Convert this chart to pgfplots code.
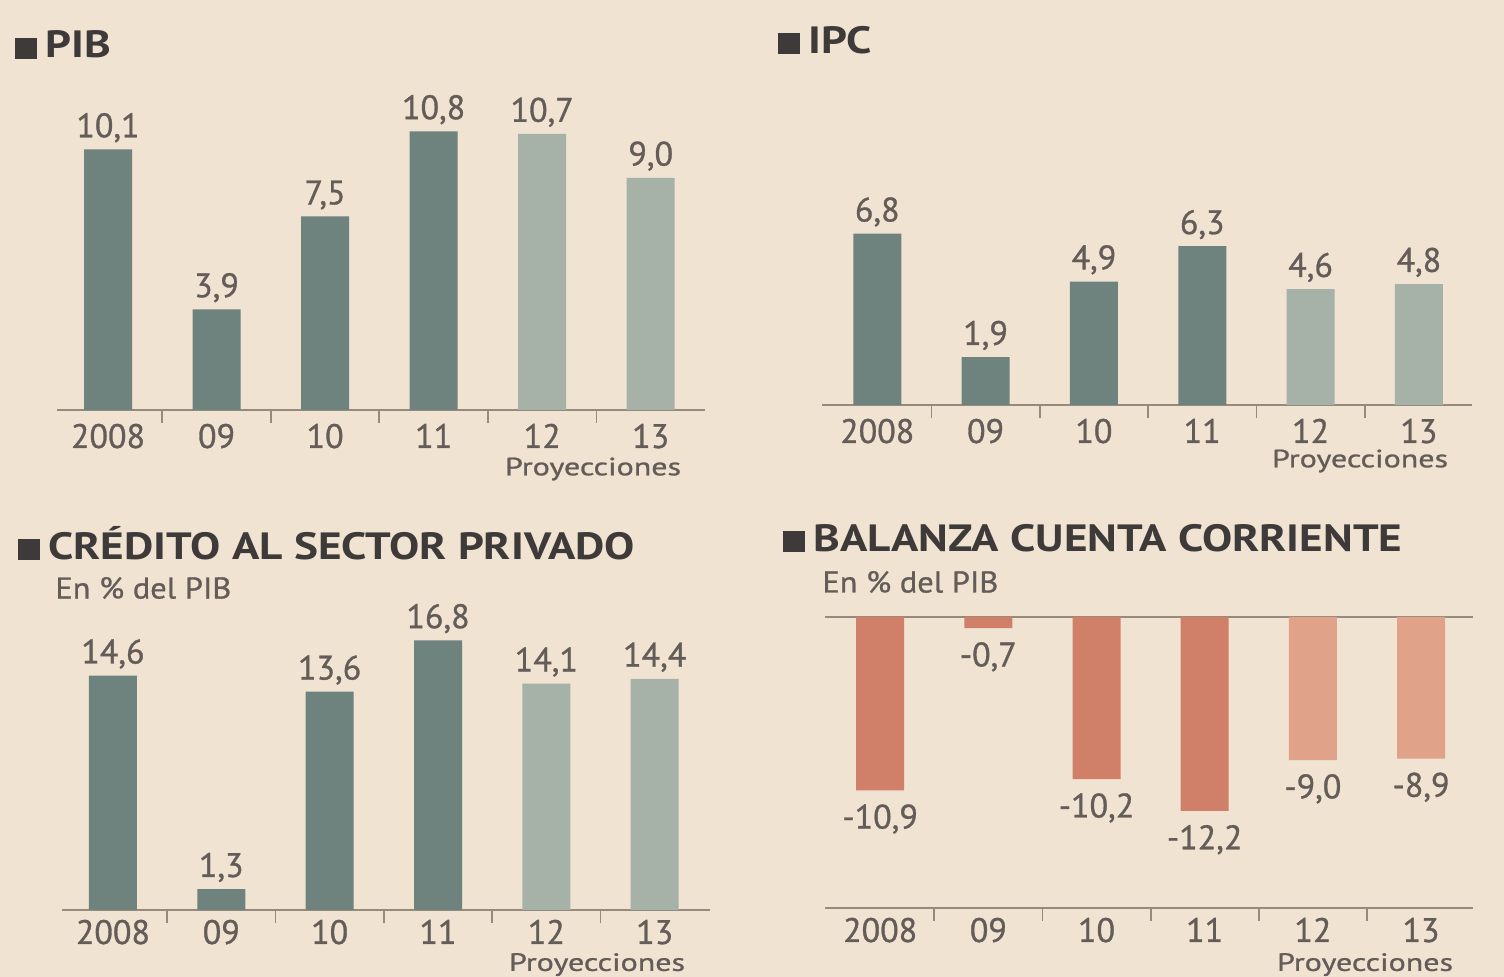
\documentclass[border=0pt]{standalone}
\usepackage{pgfplots}
\pgfplotsset{compat=1.18}
\usepackage{fontspec}
\setmainfont{PT Sans}
\newfontfamily\medfont[FakeBold=0.9]{PT Sans}
\definecolor{bg}{RGB}{240,227,209}
\definecolor{dk}{RGB}{110,131,125}
\definecolor{lt}{RGB}{166,178,168}
\definecolor{rdk}{RGB}{208,128,104}
\definecolor{rlt}{RGB}{224,162,136}
\definecolor{axc}{RGB}{150,138,125}
\definecolor{txt}{RGB}{100,92,88}
\definecolor{ttl}{RGB}{62,58,58}
\newcommand{\ttlbox}[1]{\rule[-0.5pt]{11pt}{10.5pt}\hspace{4pt}\scalebox{1.19}[1]{#1}}
\tikzset{proy/.style={inner sep=0, text=txt, font=\medfont\fontsize{12.5}{12.5}\selectfont}}
\newcommand{\proyt}{\scalebox{1.28}[1]{Proyecciones}}
\pgfplotsset{
  panel/.style={
    scale only axis, anchor=south west,
    width=324pt,
    axis x line=bottom, axis y line=none,
    axis line style={-, draw=axc, line width=1.3pt},
    ytick=\empty,
    xtick={0,1,2,3,4,5},
    xticklabels={2008,09,10,11,12,13},
    major tick length=0pt,
    minor xtick={0.5,1.5,2.5,3.5,4.5},
    minor tick length=6.5pt,
    tick align=outside,
    minor tick style={draw=axc, line width=0.9pt},
    xticklabel style={font=\medfont\fontsize{17}{17}\selectfont, text=txt, anchor=base, yshift=-19pt},
    ybar, bar width=24pt, bar shift=0pt,
    nodes near coords,
    every node near coord/.append style={font=\medfont\fontsize{17}{17}\selectfont, text=txt},
    /pgf/number format/.cd, fixed, fixed zerofill, precision=1, use comma, assume math mode=true,
  },
  lowpanel/.style={xticklabel style={yshift=2pt}},
}
\begin{document}
\begin{tikzpicture}
\useasboundingbox (0,0) rectangle (752pt,488.5pt);
\clip (0,0) rectangle (752pt,488.5pt);
\fill[bg] (0,0) rectangle (752pt,488.5pt);

% PIB
\begin{axis}[panel, at={(28.5pt,283.5pt)}, height=154.8pt, xmin=-0.47, xmax=5.5, ymin=0, ymax=12]
\addplot[fill=dk, draw=none] coordinates {(0,10.1) (1,3.9) (2,7.5) (3,10.8)};
\addplot[fill=lt, draw=none] coordinates {(4,10.7) (5,9.0)};
\end{axis}

% IPC
\begin{axis}[panel, at={(411pt,286pt)}, width=325pt, height=151.2pt, xmin=-0.51, xmax=5.49, ymin=0, ymax=12]
\addplot[fill=dk, draw=none] coordinates {(0,6.8) (1,1.9) (2,4.9) (3,6.3)};
\addplot[fill=lt, draw=none] coordinates {(4,4.6) (5,4.8)};
\end{axis}

% Credito
\begin{axis}[panel, lowpanel, at={(31pt,33.5pt)}, height=152.5pt, xmin=-0.47, xmax=5.51, ymin=0, ymax=19]
\addplot[fill=dk, draw=none] coordinates {(0,14.6) (1,1.3) (2,13.6) (3,16.8)};
\addplot[fill=lt, draw=none] coordinates {(4,14.1) (5,14.4)};
\end{axis}

% Balanza
\begin{axis}[panel, lowpanel, at={(412.5pt,34.5pt)}, height=145.5pt, xmin=-0.51, xmax=5.48, ymin=-18.3, ymax=0,
  every node near coord/.append style={yshift=-3.5pt}]
\draw[axc, line width=1.3pt] (axis cs:-0.51,0) -- (axis cs:5.48,0);
\addplot[fill=rdk, draw=none] coordinates {(0,-10.9) (1,-0.7) (2,-10.2) (3,-12.2)};
\addplot[fill=rlt, draw=none] coordinates {(4,-9.0) (5,-8.9)};
\end{axis}

% titles
\node[anchor=west, inner sep=0, text=ttl, font=\bfseries\fontsize{19}{19}\selectfont] at (7.5pt,466pt) {\ttlbox{PIB}};
\node[anchor=west, inner sep=0, text=ttl, font=\bfseries\fontsize{19}{19}\selectfont] at (389pt,468.5pt) {\ttlbox{IPC}};
\node[anchor=west, inner sep=0, text=ttl, font=\bfseries\fontsize{19}{19}\selectfont] at (9pt,217pt) {\ttlbox{CRÉDITO AL SECTOR PRIVADO}};
\node[anchor=west, inner sep=0, text=ttl, font=\bfseries\fontsize{19}{19}\selectfont] at (391.5pt,219.5pt) {\ttlbox{BALANZA CUENTA CORRIENTE}};
\node[anchor=west, inner sep=0, text=txt, font=\medfont\fontsize{15}{15}\selectfont] at (27.5pt,194.5pt) {\scalebox{1.08}[1]{En \% del PIB}};
\node[anchor=west, inner sep=0, text=txt, font=\medfont\fontsize{15}{15}\selectfont] at (411pt,197.5pt) {\scalebox{1.08}[1]{En \% del PIB}};
% Proyecciones
\node[proy] at (296.5pt,254pt) {\proyt};
\node[proy] at (680pt,258pt) {\proyt};
\node[proy] at (298.5pt,6.2pt) {\proyt};
\node[proy] at (682.5pt,6.2pt) {\proyt};
\end{tikzpicture}
\end{document}
